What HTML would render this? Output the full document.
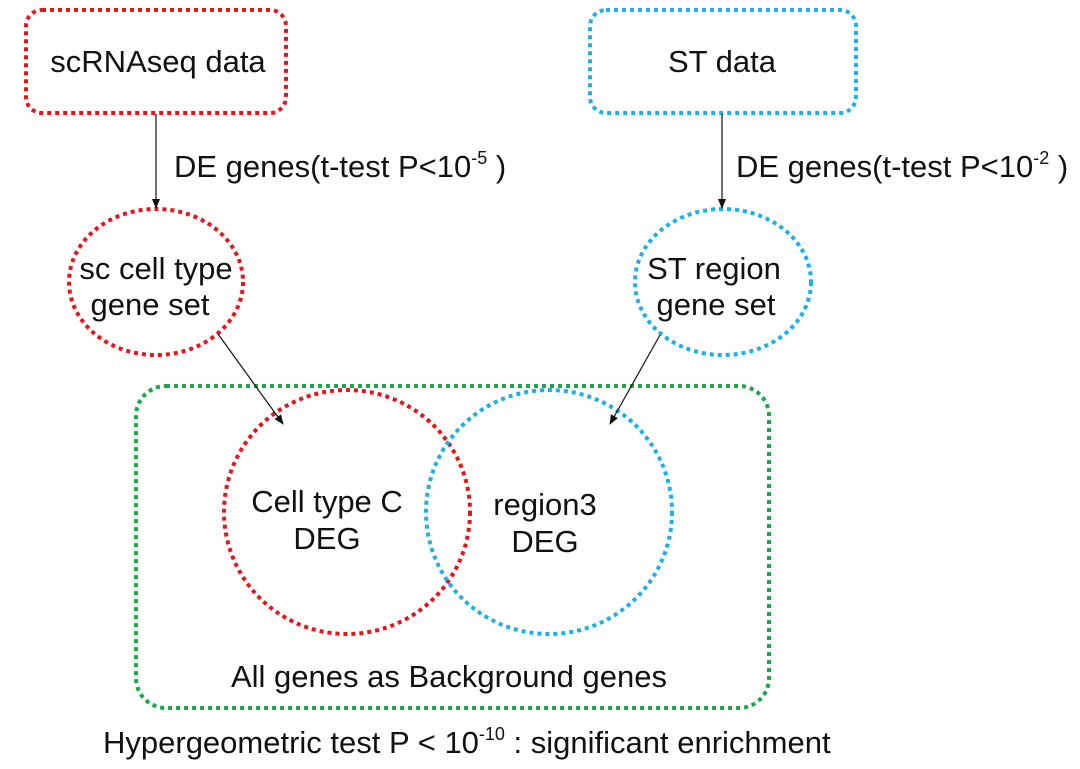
<!DOCTYPE html>
<html><head><meta charset="utf-8"><style>
html,body{margin:0;padding:0;background:#fff;}
svg{display:block;}
text{font-family:"Liberation Sans",Arial,sans-serif;fill:#111;}
</style></head><body>
<svg width="1080" height="769" viewBox="0 0 1080 769">
<defs><marker id="ah" markerWidth="10" markerHeight="10" refX="9" refY="5" orient="auto" markerUnits="userSpaceOnUse"><path d="M0,1 L10,5 L0,9 Z" fill="#111"/></marker></defs>
<g fill="none" stroke-width="4" stroke-dasharray="4 4">
<rect x="26" y="10" width="260" height="103" rx="16" stroke="#e8141c"/>
<rect x="590" y="10" width="266" height="103" rx="16" stroke="#1ab0e8"/>
<ellipse cx="156" cy="282" rx="87" ry="73" stroke="#e8141c"/>
<ellipse cx="723" cy="282" rx="88" ry="73" stroke="#1ab0e8"/>
<rect x="136" y="386" width="633" height="322" rx="30" stroke="#1aa64a"/>
<ellipse cx="347" cy="512" rx="123" ry="122" stroke="#e8141c"/>
<ellipse cx="549" cy="512" rx="123" ry="122" stroke="#1ab0e8"/>
</g>
<g stroke="#111" stroke-width="1.2">
<line x1="156" y1="114" x2="156" y2="208" marker-end="url(#ah)"/>
<line x1="722" y1="114" x2="722" y2="208" marker-end="url(#ah)"/>
<line x1="218" y1="334" x2="283" y2="424" marker-end="url(#ah)"/>
<line x1="660" y1="335" x2="610" y2="424" marker-end="url(#ah)"/>
</g>
<g font-size="31" text-anchor="middle">
<text x="158" y="72">scRNAseq data</text>
<text x="722" y="72">ST data</text>
<text x="156" y="279">sc cell type</text>
<text x="150" y="315">gene set</text>
<text x="714" y="279">ST region</text>
<text x="716" y="315">gene set</text>
<text x="327" y="512">Cell type C</text>
<text x="327" y="549">DEG</text>
<text x="545" y="515">region3</text>
<text x="545" y="552">DEG</text>
<text x="449" y="687">All genes as Background genes</text>
</g>
<g font-size="31">
<text x="174" y="177">DE genes(t-test P&lt;10<tspan font-size="18" dy="-13">-5</tspan><tspan dy="13"> )</tspan></text>
<text x="736" y="177">DE genes(t-test P&lt;10<tspan font-size="18" dy="-13">-2</tspan><tspan dy="13"> )</tspan></text>
<text x="103" y="753">Hypergeometric test P &lt; 10<tspan font-size="18" dy="-13">-10</tspan><tspan dy="13"> : significant enrichment</tspan></text>
</g>
</svg>
</body></html>
